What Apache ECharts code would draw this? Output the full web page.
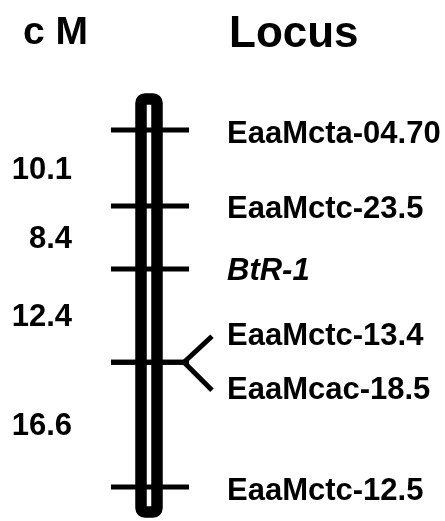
<!DOCTYPE html>
<html>
<head>
<meta charset="utf-8">
<script src="https://cdn.jsdelivr.net/npm/echarts@6/dist/echarts.min.js"></script>
<style>
  html, body { margin: 0; padding: 0; background: #fff; }
  #app { width: 445px; height: 521px; }
</style>
</head>
<body>
<div id="app"></div>
<script>
// loci on the linkage group, top to bottom, with map position in cM
var loci = ['EaaMcta-04.70', 'EaaMctc-23.5', 'BtR-1', 'EaaMctc-13.4', 'EaaMcac-18.5', 'EaaMctc-12.5'];
var lociPos = [0, 10.1, 18.5, 30.9, 30.9, 47.5];
var italicLoci = ['BtR-1'];
// distances between neighbouring marker positions (cM)
var intervals = [10.1, 8.4, 12.4, 16.6];
var intervalStart = [0, 10.1, 18.5, 30.9];

var FONT = '"Liberation Sans", Arial, Helvetica, sans-serif';

var myChart = echarts.init(document.getElementById('app'));

// how many loci share a position, and which one of them this is
function sameSpot(i) {
    var n = 0, k = 0;
    for (var j = 0; j < lociPos.length; j++) {
        if (lociPos[j] === lociPos[i]) {
            if (j < i) k++;
            n++;
        }
    }
    return {n: n, k: k};
}

var option = {
    animation: false,
    grid: {left: 0, right: 0, top: 130, bottom: 34},
    xAxis: {type: 'value', min: 0, max: 445, show: false},
    yAxis: {type: 'value', min: 0, max: 47.5, inverse: true, show: false},
    graphic: [
        {type: 'text', left: 23, top: 14, style: {text: 'c M', fill: '#000', font: 'bold 39px ' + FONT}},
        {type: 'text', left: 229, top: 13, style: {text: 'Locus', fill: '#000', font: 'bold 44px ' + FONT}}
    ],
    series: [
        {
            // the chromosome bar
            type: 'custom',
            data: [[0, lociPos[lociPos.length - 1]]],
            z: 1,
            renderItem: function (params, api) {
                var y0 = api.coord([0, api.value(0)])[1];
                var y1 = api.coord([0, api.value(1)])[1];
                return {
                    type: 'rect',
                    shape: {x: 141, y: y0 - 31, width: 16, height: (y1 - y0) + 56, r: 4},
                    style: {fill: '#fff', stroke: '#000', lineWidth: 11.5}
                };
            }
        },
        {
            // marker ticks and locus names
            type: 'custom',
            data: lociPos.map(function (p, i) { return [i, p]; }),
            z: 2,
            renderItem: function (params, api) {
                var i = api.value(0);
                var y = api.coord([0, api.value(1)])[1];
                var s = sameSpot(i);
                var children = [{
                    type: 'line',
                    shape: {x1: 111, y1: y, x2: 189, y2: y},
                    style: {stroke: '#000', lineWidth: 5}
                }];
                var ty = y + 4;
                if (s.n > 1) {
                    var dy = s.k === 0 ? -26 : 28;
                    children.push({
                        type: 'line',
                        shape: {x1: 184, y1: y, x2: 212, y2: y + dy},
                        style: {stroke: '#000', lineWidth: 5}
                    });
                    ty = y + dy;
                }
                var it = italicLoci.indexOf(loci[i]) >= 0;
                if (it) ty = y + 2;
                children.push({
                    type: 'text',
                    style: {
                        x: 227, y: ty, text: loci[i], fill: '#000',
                        font: (it ? 'italic ' : '') + 'bold 31px ' + FONT,
                        textAlign: 'left', textVerticalAlign: 'middle'
                    }
                });
                return {type: 'group', children: children};
            }
        },
        {
            // interval distances on the left
            type: 'custom',
            data: intervals.map(function (d, i) { return [intervalStart[i], d]; }),
            z: 2,
            renderItem: function (params, api) {
                var a = api.value(0), d = api.value(1);
                var y = api.coord([0, a + d / 2])[1];
                return {
                    type: 'text',
                    style: {
                        x: 72, y: y + 2, text: d.toFixed(1), fill: '#000',
                        font: 'bold 31px ' + FONT,
                        textAlign: 'right', textVerticalAlign: 'middle'
                    }
                };
            }
        }
    ]
};

myChart.setOption(option);
</script>
</body>
</html>
